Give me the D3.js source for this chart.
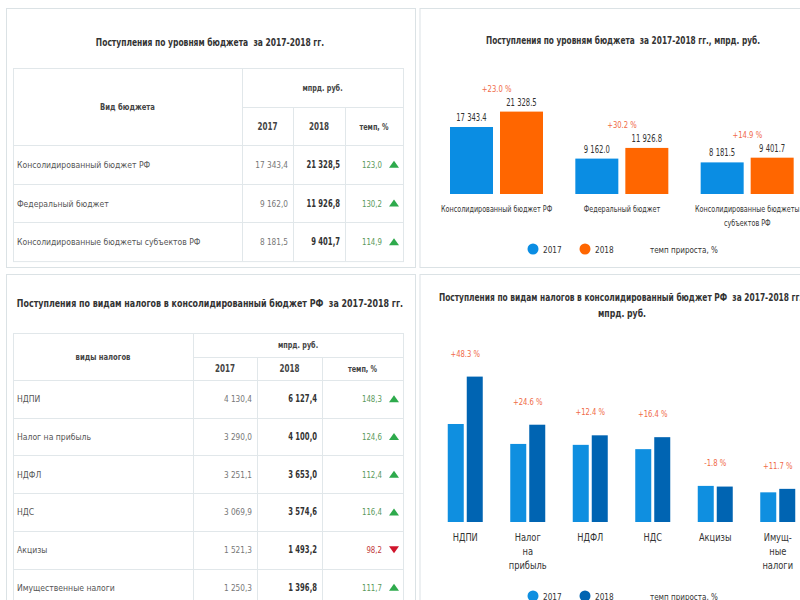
<!DOCTYPE html>
<html><head><meta charset="utf-8">
<script src="https://cdn.jsdelivr.net/npm/d3@7/dist/d3.min.js"></script>
<style>
html,body{margin:0;padding:0;background:#fff;overflow:hidden}
svg{display:block;font-family:"DejaVu Sans Condensed","Liberation Sans Narrow","Roboto",sans-serif}
text.ttl{white-space:pre}
</style></head>
<body><svg id="c" width="800" height="600"></svg>
<script>
// ---- data: budget levels ----
const budgetNames = ["Консолидированный бюджет РФ","Федеральный бюджет","Консолидированные бюджеты субъектов РФ"];
const budgetAxisLabels = [["Консолидированный бюджет РФ"],["Федеральный бюджет"],["Консолидированные бюджеты","субъектов РФ"]];
const budget2017 = [17343.4, 9162.0, 8181.5];
const budget2018 = [21328.5, 11926.8, 9401.7];
const budgetTemp = [123.0, 130.2, 114.9];
const budgetGrowth = ["+23.0 %","+30.2 %","+14.9 %"];
// ---- data: taxes ----
const taxNames = ["НДПИ","Налог на прибыль","НДФЛ","НДС","Акцизы","Имущественные налоги"];
const taxAxisLabels = [["НДПИ"],["Налог","на","прибыль"],["НДФЛ"],["НДС"],["Акцизы"],["Имущ-","ные","налоги"]];
const tax2017 = [4130.4, 3290.0, 3251.1, 3069.9, 1521.3, 1250.3];
const tax2018 = [6127.4, 4100.0, 3653.0, 3574.6, 1493.2, 1396.8];
const taxTemp = [148.3, 124.6, 112.4, 116.4, 98.2, 111.7];
const taxGrowth = ["+48.3 %","+24.6 %","+12.4 %","+16.4 %","-1.8 %","+11.7 %"];
const years = ["2017","2018"];
const legendLabels = ["2017","2018","темп прироста, %"];

const svg = d3.select("#c");
const LINE = "#e1e7ea";
const fmtT = v => d3.format(",.1f")(v).replace(/,/g," ").replace(".",",");
const fmtC = v => d3.format(",.1f")(v).replace(/,/g," ");

// condensed look: squeeze text horizontally
function squeeze(sel, f){
  sel.each(function(){
    const L = this.getComputedTextLength();
    if (L>0) d3.select(this).attr("textLength", L*f).attr("lengthAdjust","spacingAndGlyphs");
  });
  return sel;
}

// panels
[[6,8,409,259],[419.5,8,400,259],[6,274,409,340],[419.5,274,400,340]].forEach(p=>{
  svg.append("rect").attr("x",p[0]+.5).attr("y",p[1]+.5).attr("width",p[2]).attr("height",p[3])
    .attr("fill","#fff").attr("stroke","#dbe2e5");
});

function title(x,y,t,size,f){
  squeeze(svg.append("text").attr("class","ttl").attr("x",x).attr("y",y).attr("text-anchor","middle")
   .attr("font-size",size).attr("font-weight","bold").attr("fill","#333").text(t), f);
}

// ---------- generic table ----------
function table(o){
  const g = svg.append("g");
  const rows = d3.scaleBand().domain(d3.range(o.names.length)).range([o.y2, o.y2 + o.rowH*o.names.length]);
  const cx = o.cols; // [x0, c1, c2, c3, x1]
  const yEnd = Math.min(o.y2 + o.rowH*o.names.length, 610);
  g.append("rect").attr("x",cx[0]+.5).attr("y",o.y0+.5).attr("width",cx[4]-cx[0]).attr("height",yEnd-o.y0)
    .attr("fill","none").attr("stroke",LINE);
  g.append("line").attr("x1",cx[1]+.5).attr("x2",cx[1]+.5).attr("y1",o.y0).attr("y2",yEnd).attr("stroke",LINE);
  [cx[2],cx[3]].forEach(x=>g.append("line").attr("x1",x+.5).attr("x2",x+.5).attr("y1",o.y1).attr("y2",yEnd).attr("stroke",LINE));
  g.append("line").attr("x1",cx[1]).attr("x2",cx[4]).attr("y1",o.y1+.5).attr("y2",o.y1+.5).attr("stroke",LINE);
  g.selectAll(".hl").data(d3.range(o.names.length)).join("line")
    .attr("x1",cx[0]).attr("x2",cx[4]).attr("y1",d=>Math.round(rows(d))+.5).attr("y2",d=>Math.round(rows(d))+.5).attr("stroke",LINE);
  // headers
  const hs = o.hsize;
  squeeze(g.append("text").attr("x",(cx[0]+cx[1])/2).attr("y",(o.y0+o.y2)/2+3).attr("text-anchor","middle")
    .attr("font-size",hs).attr("font-weight","bold").attr("fill","#444").text(o.head), 0.8);
  squeeze(g.append("text").attr("x",(cx[1]+cx[4])/2).attr("y",(o.y0+o.y1)/2+3).attr("text-anchor","middle")
    .attr("font-size",hs-0.5).attr("font-weight","bold").attr("fill","#444").text("мпрд. руб."), 0.8);
  const hy = (o.y1+o.y2)/2+3.5;
  [["2017",(cx[1]+cx[2])/2],["2018",(cx[2]+cx[3])/2],["темп, %",(cx[3]+cx[4])/2]].forEach(h=>{
    squeeze(g.append("text").attr("x",h[1]).attr("y",hy).attr("text-anchor","middle")
      .attr("font-size",h[0].length>4?hs-0.5:hs+0.5).attr("font-weight","bold").attr("fill","#444").text(h[0]), 0.8);
  });
  const fs = o.fsize;
  const ty = i => rows(i)+rows.bandwidth()/2+3.5;
  squeeze(g.selectAll(".nm").data(o.names).join("text").attr("x",cx[0]+4).attr("y",(d,i)=>ty(i))
    .attr("font-size",fs).attr("fill","#555").text(d=>d), 0.9);
  squeeze(g.selectAll(".v1").data(o.v1).join("text").attr("x",cx[2]-5).attr("y",(d,i)=>ty(i)).attr("text-anchor","end")
    .attr("font-size",fs).attr("fill","#777").text(fmtT), 0.86);
  squeeze(g.selectAll(".v2").data(o.v2).join("text").attr("x",cx[3]-5).attr("y",(d,i)=>ty(i)).attr("text-anchor","end")
    .attr("font-size",fs+0.5).attr("font-weight","bold").attr("fill","#333").text(fmtT), 0.76);
  squeeze(g.selectAll(".tp").data(o.temp).join("text").attr("x",cx[4]-21).attr("y",(d,i)=>ty(i)).attr("text-anchor","end")
    .attr("font-size",fs).attr("fill",d=>d>=100?"#5b9a5b":"#c23a3a").text(fmtT), 0.82);
  g.selectAll(".tr").data(o.temp).join("path")
    .attr("transform",(d,i)=>`translate(${cx[4]-9},${rows(i)+rows.bandwidth()/2})`)
    .attr("d",d=>d>=100?"M-5,3.5L5,3.5L0,-3.5Z":"M-5,-3.5L5,-3.5L0,3.5Z")
    .attr("fill",d=>d>=100?"#2eaa4c":"#d0142c");
}

// top-left
title(210,46,"Поступления по уровням бюджета  за 2017-2018 гг.",10.5,0.80);
table({names:budgetNames,v1:budget2017,v2:budget2018,temp:budgetTemp,
  cols:[13,242,293,345,403], y0:68,y1:107,y2:145,rowH:38.7, head:"Вид бюджета", hsize:9.5, fsize:9.5});

// bottom-left
title(210,307,"Поступления по видам налогов в консолидированный бюджет РФ  за 2017-2018 гг.",10.5,0.84);
table({names:taxNames,v1:tax2017,v2:tax2018,temp:taxTemp,
  cols:[13,193,257,322,403], y0:333,y1:357,y2:380,rowH:37.7, head:"виды налогов", hsize:9.5, fsize:9.5});

// ---------- grouped bar chart ----------
function bars(o){
  const g = svg.append("g");
  const x = d3.scaleBand().domain(d3.range(o.v1.length)).range(o.xr);
  const xi = d3.scaleBand().domain(years).range(o.inner).paddingInner(o.pin);
  const y = d3.scaleLinear().domain([0,o.ymax]).range([o.base, o.top]);
  const data = o.v1.map((v,i)=>({i, vals:[v,o.v2[i]]}));
  const gg = g.selectAll(".grp").data(data).join("g").attr("transform",d=>`translate(${x(d.i)},0)`);
  gg.selectAll("rect").data(d=>d.vals.map((v,k)=>({k,v}))).join("rect")
    .attr("x",d=>xi(years[d.k])).attr("width",xi.bandwidth())
    .attr("y",d=>y(d.v)).attr("height",d=>o.base-y(d.v)).attr("fill",d=>o.colors[d.k]);
  if(o.valueLabels){
    squeeze(gg.selectAll(".vl").data(d=>d.vals.map((v,k)=>({k,v}))).join("text")
      .attr("x",d=>xi(years[d.k])+xi.bandwidth()/2).attr("y",d=>y(d.v)-6).attr("text-anchor","middle")
      .attr("font-size",o.vsize).attr("fill","#333").text(d=>fmtC(d.v)), 0.76);
  }
  squeeze(gg.append("text").attr("x",x.bandwidth()/2).attr("y",d=>y(d3.max(d.vals))-o.gOff)
    .attr("text-anchor","middle").attr("font-size",o.vsize-0.5).attr("fill","#f06a48").text(d=>o.growth[d.i]), 0.8);
  gg.each(function(d){
    const gsel = d3.select(this);
    o.cats[d.i].forEach((s,j)=>{
      squeeze(gsel.append("text").attr("text-anchor","middle").attr("font-size",o.csize).attr("fill","#333")
        .attr("x",x.bandwidth()/2).attr("y",o.catY+j*o.catDy).text(s), o.cf);
    });
  });
  // legend
  const lx = [533,585];
  o.colors.forEach((c,k)=>{
    g.append("circle").attr("cx",lx[k]).attr("cy",o.legY).attr("r",5.5).attr("fill",c);
    squeeze(g.append("text").attr("x",lx[k]+10).attr("y",o.legY+3.5).attr("font-size",9.5).attr("fill","#333").text(legendLabels[k]), 0.86);
  });
  squeeze(g.append("text").attr("x",650).attr("y",o.legY+3.5).attr("font-size",9.5).attr("fill","#333").text(legendLabels[2]), 0.84);
}

title(623,44,"Поступления по уровням бюджета  за 2017-2018 гг., мпрд. руб.",10,0.82);
bars({v1:budget2017,v2:budget2018,growth:budgetGrowth,cats:budgetAxisLabels,
  xr:[434,810], inner:[16,109], pin:0.14, ymax:21328.5, base:194, top:194-82.4,
  colors:["#0a8de3","#ff6600"], valueLabels:true, vsize:10, gOff:20, csize:8.5, cf:0.84, catY:212, catDy:14, legY:249});

title(622,301,"Поступления по видам налогов в консолидированный бюджет РФ  за 2017-2018 гг.,",10.5,0.79);
title(622,317,"мпрд. руб.",10.5,0.82);
bars({v1:tax2017,v2:tax2018,growth:taxGrowth,cats:taxAxisLabels,
  xr:[434,809], inner:[13.75,48.75], pin:0.158, ymax:6127.4, base:522, top:522-145.4,
  colors:["#0f8fe0","#0064b2"], valueLabels:false, vsize:10, gOff:20, csize:10, cf:0.92, catY:541, catDy:14, legY:596});
</script></body></html>
